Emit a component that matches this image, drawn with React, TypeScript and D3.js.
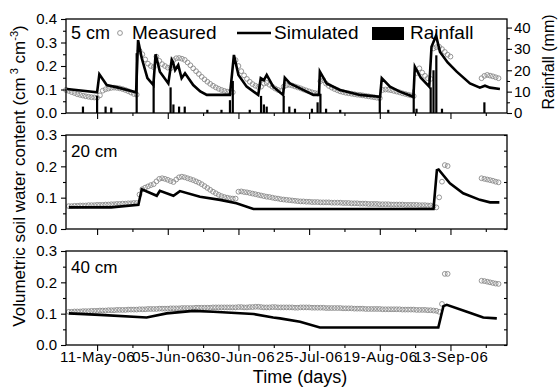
import React, { useEffect, useRef } from "react";
import * as d3 from "d3";

const width = 560;
const height = 388;
const plotLeft = 66;
const plotRight = 507;
const panelTop = 19;
const panelHeight = 94;
const panelGap = 22;

const startDate = new Date(2006, 3, 30);
const endDate = new Date(2006, 9, 3);
const tickDates = [
  new Date(2006, 4, 11),
  new Date(2006, 5, 5),
  new Date(2006, 5, 30),
  new Date(2006, 6, 25),
  new Date(2006, 7, 19),
  new Date(2006, 8, 13),
];

// measured soil water content, one value per day, in runs (start = day since 30-Apr-06)
const measured5 = [
  {
    start: 0,
    values: [
      0.098, 0.094, 0.089, 0.085, 0.08, 0.077, 0.074, 0.071, 0.069, 0.067, 0.066, 0.065,
      0.075, 0.095, 0.101, 0.104, 0.107, 0.108, 0.107, 0.105, 0.102, 0.098, 0.093, 0.087, 0.081, 0.078,
      0.265, 0.25, 0.228, 0.21, 0.2, 0.195, 0.24, 0.222, 0.208, 0.2, 0.193, 0.19,
      0.225, 0.233, 0.234, 0.231, 0.226, 0.215, 0.203, 0.19, 0.178, 0.166, 0.154, 0.143, 0.133, 0.124,
      0.116, 0.109, 0.103, 0.098, 0.094, 0.091, 0.089, 0.088,
      0.225, 0.2, 0.178, 0.16, 0.145, 0.133, 0.123, 0.116, 0.111, 0.112, 0.125, 0.128, 0.12, 0.112,
      0.104, 0.098, 0.094,
      0.112, 0.118, 0.12, 0.117, 0.113, 0.109, 0.105, 0.1, 0.096, 0.092, 0.088, 0.085, 0.083,
      0.135, 0.14, 0.125, 0.115, 0.108, 0.102, 0.097, 0.092, 0.089, 0.086, 0.084, 0.082, 0.08, 0.078,
      0.077, 0.075, 0.073, 0.071, 0.069, 0.067, 0.065, 0.063,
      0.098, 0.1, 0.099, 0.097, 0.094, 0.091, 0.088, 0.084, 0.081, 0.078, 0.075, 0.072,
      0.17, 0.19, 0.172, 0.158, 0.148, 0.145, 0.275, 0.28, 0.282, 0.272, 0.26, 0.248, 0.24,
    ],
  },
  { start: 147, values: [0.148, 0.158, 0.162, 0.159, 0.156, 0.152, 0.148] },
];

const measured20 = [
  {
    start: 1,
    values: [
      0.073, 0.073, 0.074, 0.074, 0.075, 0.075, 0.075, 0.076, 0.076, 0.076, 0.077, 0.077, 0.077,
      0.078, 0.078, 0.079, 0.079, 0.08, 0.08, 0.081, 0.081, 0.082, 0.082, 0.083, 0.083,
      0.11, 0.127, 0.132, 0.136, 0.14, 0.143, 0.152, 0.16, 0.162, 0.16, 0.157, 0.153, 0.15, 0.158,
      0.165, 0.167, 0.165, 0.162, 0.159, 0.156, 0.152, 0.148, 0.143, 0.137, 0.131, 0.125, 0.119,
      0.114, 0.109, 0.105, 0.102, 0.1, 0.098, 0.097, 0.097,
      0.119, 0.12, 0.118, 0.117, 0.115, 0.113, 0.111, 0.109, 0.107, 0.105, 0.103, 0.102, 0.1,
      0.098, 0.097, 0.095, 0.094, 0.093, 0.092, 0.091, 0.09, 0.089, 0.088, 0.088,
      0.087, 0.087, 0.086, 0.086, 0.086, 0.085, 0.085, 0.085, 0.085, 0.084, 0.084,
      0.084, 0.084, 0.083, 0.083, 0.083, 0.082, 0.082, 0.082, 0.081, 0.081, 0.081, 0.08, 0.08, 0.08, 0.08,
      0.079, 0.079, 0.079, 0.079, 0.078, 0.078, 0.078, 0.078, 0.078, 0.077, 0.077, 0.077, 0.077,
      0.077, 0.076, 0.076, 0.076, 0.075,
      0.075, 0.072, 0.069, 0.101, 0.151, 0.204, 0.201,
    ],
  },
  { start: 147, values: [0.162, 0.16, 0.158, 0.156, 0.154, 0.151, 0.149] },
];

const measured40 = [
  {
    start: 1,
    values: [
      0.106, 0.106, 0.107, 0.107, 0.107, 0.108, 0.108, 0.108, 0.109, 0.109,
      0.109, 0.11, 0.11, 0.11, 0.111, 0.111, 0.111, 0.112, 0.112, 0.112,
      0.112, 0.113, 0.113, 0.113, 0.113, 0.114, 0.114, 0.114, 0.115, 0.115,
      0.115, 0.115, 0.116, 0.116, 0.116, 0.116, 0.117, 0.117, 0.117, 0.117,
      0.118, 0.118, 0.118, 0.118, 0.118, 0.119, 0.119, 0.119, 0.119, 0.119,
      0.119, 0.12, 0.12, 0.12, 0.12, 0.12, 0.12, 0.12, 0.12, 0.12,
      0.121, 0.121, 0.12, 0.12, 0.121, 0.121, 0.122, 0.122, 0.121, 0.12,
      0.12, 0.12, 0.121, 0.121, 0.12, 0.12, 0.12, 0.12, 0.12, 0.12,
      0.119, 0.119, 0.12, 0.12, 0.12, 0.12, 0.119, 0.119, 0.119, 0.119,
      0.119, 0.118, 0.118, 0.118, 0.118, 0.118, 0.118, 0.117, 0.117, 0.117,
      0.117, 0.116, 0.116, 0.116, 0.116, 0.115, 0.115, 0.115, 0.115, 0.115,
      0.115, 0.114, 0.114, 0.114, 0.114, 0.114, 0.114, 0.114, 0.113, 0.113,
      0.113, 0.113, 0.113, 0.112, 0.112, 0.112, 0.112, 0.111, 0.111, 0.11, 0.109,
      0.106, 0.131, 0.227, 0.227,
    ],
  },
  { start: 147, values: [0.205, 0.204, 0.202, 0.2, 0.198, 0.196, 0.195] },
];

// simulated soil water content: [day since 30-Apr-06, value]
const simulated5 = [
  [0.3, 0.102], [11, 0.088], [11.8, 0.165], [14.4, 0.119], [18.5, 0.108], [24.8, 0.088],
  [25.5, 0.31], [26.8, 0.233], [28.8, 0.148], [30.9, 0.119], [31.7, 0.25], [33.2, 0.176],
  [36.2, 0.126], [37.4, 0.226], [37.8, 0.218], [38.6, 0.183], [39.7, 0.204], [40.9, 0.148],
  [42.1, 0.169], [45, 0.119], [47.5, 0.092], [49.8, 0.077], [58, 0.077], [59.4, 0.247],
  [61, 0.162], [63.9, 0.112], [68, 0.077], [68.9, 0.148], [70, 0.14], [71, 0.162],
  [73.3, 0.112], [76.8, 0.077], [77.4, 0.15], [79.2, 0.126], [82.8, 0.105], [87.5, 0.077],
  [89.5, 0.077], [89.8, 0.176], [92.2, 0.126], [96.9, 0.098], [104, 0.077], [111.1, 0.069],
  [111.7, 0.148], [114.6, 0.112], [118.1, 0.091], [122.9, 0.069], [123.4, 0.197],
  [125.5, 0.15], [128.5, 0.112], [129.3, 0.282], [130.9, 0.329], [132.3, 0.26],
  [135, 0.215], [138.2, 0.176], [142.9, 0.126], [146.4, 0.108], [148.2, 0.116],
  [150, 0.108], [153.5, 0.102],
];

const simulated20 = [
  [1, 0.069], [16, 0.069], [25.6, 0.077], [26.8, 0.127], [32.1, 0.106], [33.2, 0.122],
  [38, 0.106], [40.3, 0.121], [47.4, 0.103], [54.5, 0.093], [60.3, 0.082], [66.3, 0.064],
  [130, 0.064], [131.2, 0.188], [131.8, 0.19], [135.8, 0.146], [140.5, 0.114],
  [146.4, 0.093], [150, 0.085], [153.3, 0.085],
];

const simulated40 = [
  [1, 0.101], [12, 0.096], [28.5, 0.088], [35.6, 0.101], [45, 0.109], [52.1, 0.106],
  [66.3, 0.099], [73.3, 0.088], [75.7, 0.085], [82.8, 0.074], [89.8, 0.056], [131.7, 0.056],
  [133.5, 0.124], [134.7, 0.128], [141.8, 0.106], [147.6, 0.088], [152.4, 0.085],
];

// rainfall: [day since 30-Apr-06, mm]
const rainfall = [
  [6, 3], [11, 8], [14, 3], [16, 2.5], [25, 28], [31, 15], [37, 12], [38, 4], [40, 3],
  [42, 3], [50, 1.5], [55, 1.5], [58, 6], [59, 15], [65, 1.5], [69, 8], [70, 4], [71, 3],
  [77, 8], [79, 3], [81, 2], [87, 2], [89, 5], [90, 9], [92, 2], [97, 1.5], [111, 7],
  [114, 1.5], [123, 11], [124, 2], [129, 12], [130, 20], [131, 27], [133, 2], [148, 5],
];

const panels = [
  { label: "5 cm", measured: measured5, simulated: simulated5, yMax: 0.4 },
  { label: "20 cm", measured: measured20, simulated: simulated20, yMax: 0.3 },
  { label: "40 cm", measured: measured40, simulated: simulated40, yMax: 0.3 },
];

const font = "'Liberation Sans', Arial, sans-serif";
const dayToDate = (d: number) => new Date(startDate.getTime() + d * 864e5);

const App = () => {
  const ref = useRef<SVGSVGElement>(null);

  useEffect(() => {
    document.body.style.margin = "0";
    const svg = d3.select(ref.current);
    svg.selectAll("*").remove();

    const x = d3.scaleTime().domain([startDate, endDate]).range([plotLeft, plotRight]);
    const minorDates = tickDates.map((d) => d3.timeHour.offset(d, 300));
    const fmt = d3.timeFormat("%d-%b-%y");

    panels.forEach((p, i) => {
      const top = panelTop + i * (panelHeight + panelGap);
      const bottom = top + panelHeight;
      const y = d3.scaleLinear().domain([0, p.yMax]).range([bottom, top]);
      const g = svg.append("g");

      // legend (top panel only) sits under the data
      g.append("text")
        .attr("x", 71)
        .attr("y", top + (i === 0 ? 20 : 22))
        .attr("font-size", i === 0 ? 18 : 17)
        .text(p.label);

      if (i === 0) {
        g.append("circle").attr("cx", 120).attr("cy", 33).attr("r", 2.4)
          .attr("fill", "none").attr("stroke", "#8a8a8a").attr("stroke-width", 0.9);
        g.append("text").attr("x", 132).attr("y", 39).attr("font-size", 19).text("Measured");
        g.append("line").attr("x1", 237).attr("x2", 271).attr("y1", 33).attr("y2", 33)
          .attr("stroke", "black").attr("stroke-width", 2.6);
        g.append("text").attr("x", 274).attr("y", 39).attr("font-size", 19).text("Simulated");
        g.append("rect").attr("x", 372).attr("y", 27).attr("width", 32).attr("height", 13).attr("fill", "black");
        g.append("text").attr("x", 410).attr("y", 39).attr("font-size", 19).text("Rainfall");
      }

      // measured circles
      const pts = p.measured.flatMap((s) => s.values.map((v, k) => [s.start + k, v]));
      g.append("g")
        .selectAll("circle")
        .data(pts)
        .join("circle")
        .attr("cx", (d) => x(dayToDate(d[0])))
        .attr("cy", (d) => y(d[1]))
        .attr("r", 2.4)
        .attr("fill", "none")
        .attr("stroke", "#8a8a8a")
        .attr("stroke-width", 0.9);

      let rainY: d3.ScaleLinear<number, number> | null = null;
      if (i === 0) {
        rainY = d3.scaleLinear().domain([0, 44]).range([bottom, top]);
        g.append("g")
          .selectAll("rect")
          .data(rainfall)
          .join("rect")
          .attr("x", (d) => x(dayToDate(d[0])) - 1.1)
          .attr("width", 2.2)
          .attr("y", (d) => rainY!(d[1]))
          .attr("height", (d) => bottom - rainY!(d[1]))
          .attr("fill", "black");
      }

      const line = d3
        .line<number[]>()
        .x((d) => x(dayToDate(d[0])))
        .y((d) => y(d[1]));
      g.append("path")
        .datum(p.simulated)
        .attr("d", line)
        .attr("fill", "none")
        .attr("stroke", "black")
        .attr("stroke-width", 2.6)
        .attr("stroke-linejoin", "miter");

      // frame
      g.append("rect")
        .attr("x", plotLeft)
        .attr("y", top)
        .attr("width", plotRight - plotLeft)
        .attr("height", panelHeight)
        .attr("fill", "none")
        .attr("stroke", "black")
        .attr("stroke-width", 1.3);

      const majorY = d3.range(0, p.yMax + 1e-9, 0.1);
      const minorY = majorY.slice(0, -1).map((v) => v + 0.05);

      const styleAxis = (a: d3.Selection<SVGGElement, unknown, null, undefined>, size: number) => {
        a.select(".domain").remove();
        a.selectAll("line").attr("stroke-width", 1.1);
        a.selectAll("text").attr("font-family", font).attr("font-size", size).attr("fill", "black");
      };

      styleAxis(
        g.append("g").attr("transform", `translate(${plotLeft},0)`)
          .call(d3.axisLeft(y).tickValues(majorY).tickSize(5).tickPadding(4).tickFormat(d3.format(".1f"))),
        15
      );
      styleAxis(
        g.append("g").attr("transform", `translate(${plotLeft},0)`)
          .call(d3.axisLeft(y).tickValues(minorY).tickSize(3).tickFormat(() => "")),
        15
      );

      if (rainY) {
        styleAxis(
          g.append("g").attr("transform", `translate(${plotRight},0)`)
            .call(d3.axisRight(rainY).tickValues([0, 10, 20, 30, 40]).tickSize(5).tickPadding(2)),
          15
        );
        styleAxis(
          g.append("g").attr("transform", `translate(${plotRight},0)`)
            .call(d3.axisRight(rainY).tickValues([5, 15, 25, 35]).tickSize(3).tickFormat(() => "")),
          15
        );
      } else {
        styleAxis(
          g.append("g").attr("transform", `translate(${plotRight},0)`)
            .call(d3.axisRight(y).tickValues(majorY.concat(minorY)).tickSize(-3).tickFormat(() => "")),
          15
        );
      }

      const xAxis = g.append("g").attr("transform", `translate(0,${bottom})`)
        .call(d3.axisBottom(x).tickValues(tickDates).tickSize(6).tickPadding(0)
          .tickFormat((d) => (i === 2 ? fmt(d as Date) : "")));
      styleAxis(xAxis, 15);
      xAxis.selectAll("text").attr("letter-spacing", 0.5);
      styleAxis(
        g.append("g").attr("transform", `translate(0,${bottom})`)
          .call(d3.axisBottom(x).tickValues(minorDates).tickSize(3).tickFormat(() => "")),
        14
      );
    });

    // axis titles
    svg.append("text")
      .attr("x", 300).attr("y", 383)
      .attr("text-anchor", "middle").attr("font-size", 18)
      .text("Time (days)");

    const yl = svg.append("text")
      .attr("transform", "translate(25,176) rotate(-90)")
      .attr("text-anchor", "middle").attr("font-size", 17);
    yl.append("tspan").text("Volumetric soil water content (cm");
    yl.append("tspan").attr("font-size", 11).attr("dx", 3).attr("dy", -7).text("3");
    yl.append("tspan").attr("dy", 7).text(" cm");
    yl.append("tspan").attr("font-size", 11).attr("dy", -7).text("-3");
    yl.append("tspan").attr("dy", 7).text(")");

    svg.append("text")
      .attr("transform", "translate(554,62) rotate(-90)")
      .attr("text-anchor", "middle").attr("font-size", 16)
      .text("Rainfall (mm)");
  }, []);

  return (
    <svg
      ref={ref}
      width={width}
      height={height}
      viewBox={`0 0 ${width} ${height}`}
      style={{ display: "block", background: "white", fontFamily: font }}
    />
  );
};

export default App;
